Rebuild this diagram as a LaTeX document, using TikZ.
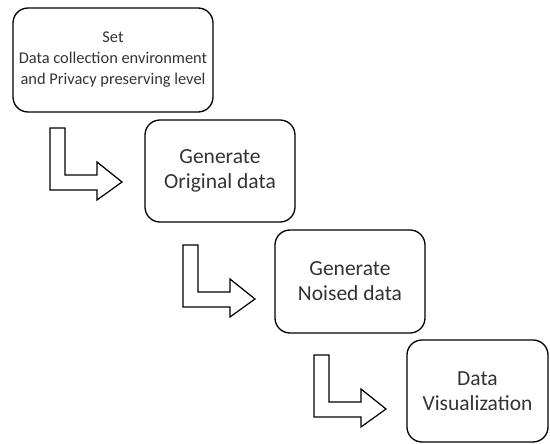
\documentclass[tikz,border=0pt]{standalone}
\usepackage{fontspec}
\setmainfont{Carlito}
\begin{document}
\begin{tikzpicture}[x=1pt,y=-1pt,every node/.style={draw=black,line width=1.3pt,rounded corners=15pt,align=center,inner sep=0pt,text=black!80},
  bigtext/.style={font=\fontsize{21.5}{25}\selectfont},
  blockarrow/.style={draw=black,line width=1.2pt,line join=miter}]
\useasboundingbox (0,0) rectangle (550,444);
% Step boxes
\draw (113,60) node(n1)[minimum width=200pt,minimum height=104pt,font=\fontsize{16.4}{21}\selectfont] {Set\\Data collection environment\\and Privacy preserving level};
\draw (220,171) node(n2)[minimum width=150pt,minimum height=102pt,bigtext] {Generate\\Original data};
\draw (350,281.5) node(n3)[minimum width=150pt,minimum height=103pt,bigtext] {Generate\\Noised data};
\draw (477.5,391) node(n4)[minimum width=141pt,minimum height=102pt,bigtext] {Data\\Visualization};
% Bent arrows between the steps
\coordinate (a1) at (50,128);
\coordinate (a2) at (183,245);
\coordinate (a3) at (314,355);
\foreach \a in {a1,a2,a3}
  \path[blockarrow] (\a) -- ++(0,62) -- ++(47,0) -- ++(0,10) -- ++(25,-18) -- ++(-25,-20) -- ++(0,13) -- ++(-32,0) -- ++(0,-47) -- cycle;
\end{tikzpicture}
\end{document}
